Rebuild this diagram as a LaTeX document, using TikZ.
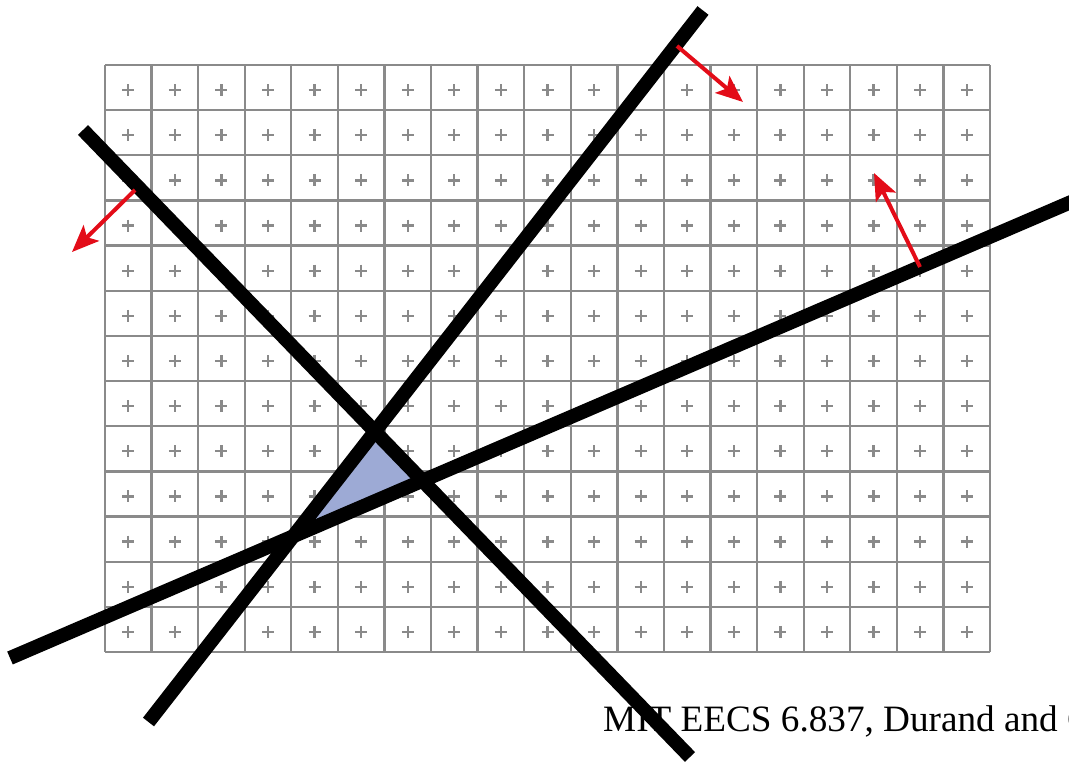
\documentclass[tikz,border=0pt]{standalone}
\usepackage{fontspec}
\setmainfont{Liberation Serif}
\usetikzlibrary{arrows.meta}
\definecolor{gridgray}{RGB}{138,138,138}
\definecolor{arrowred}{RGB}{227,12,24}
\definecolor{trifill}{RGB}{157,170,213}
\tikzset{
  gridline/.style={draw=gridgray, line width=2.3pt},
  plusmark/.style={draw=gridgray, line width=2.3pt},
  bigline/.style={draw=black, line width=14pt},
  normalarrow/.style={draw=arrowred, line width=4pt, -{Stealth[length=27pt,width=22pt,inset=6pt]}},
}
\begin{document}
\begin{tikzpicture}[x=1pt,y=-1pt]
\useasboundingbox (0,0) rectangle (1069,763);
% grid
\foreach \i in {0,...,19}
  \draw[gridline] ({105+\i*46.5789},65) -- ({105+\i*46.5789},652);
\foreach \j in {0,...,13}
  \draw[gridline] (105,{65+\j*45.1538}) -- (990,{65+\j*45.1538});
\foreach \i in {0,...,18}
  \foreach \j in {0,...,12}
    \draw[plusmark] ({105+(\i+0.5)*46.5789},{65+(\j+0.5)*45.1538+2.5}) +(-6,0) -- +(6,0) +(0,-6) -- +(0,6);
% line end points
\coordinate (a1) at (148.5,722);
\coordinate (a2) at (703,10.5);
\coordinate (b1) at (83,130);
\coordinate (b2) at (690,757);
\coordinate (c1) at (10,658);
\coordinate (c2) at (1085,196);
% triangle
\fill[trifill] (intersection of a1--a2 and b1--b2) -- (intersection of b1--b2 and c1--c2) -- (intersection of a1--a2 and c1--c2) -- cycle;
% caption
\node[anchor=base west, inner sep=0pt, font=\fontsize{37.2}{43}\selectfont] (caption) at (603,731) {MIT EECS 6.837, Durand and Cutler};
% thick lines
\draw[bigline] (a1) -- (a2);
\draw[bigline] (b1) -- (b2);
\draw[bigline] (c1) -- (c2);
% normals
\coordinate (n1s) at (677,46);
\coordinate (n1e) at (743,102);
\coordinate (n2s) at (135,190);
\coordinate (n2e) at (72,252);
\coordinate (n3s) at (920,267);
\coordinate (n3e) at (874,173);
\draw[normalarrow] (n1s) -- (n1e);
\draw[normalarrow] (n2s) -- (n2e);
\draw[normalarrow] (n3s) -- (n3e);
\end{tikzpicture}
\end{document}
